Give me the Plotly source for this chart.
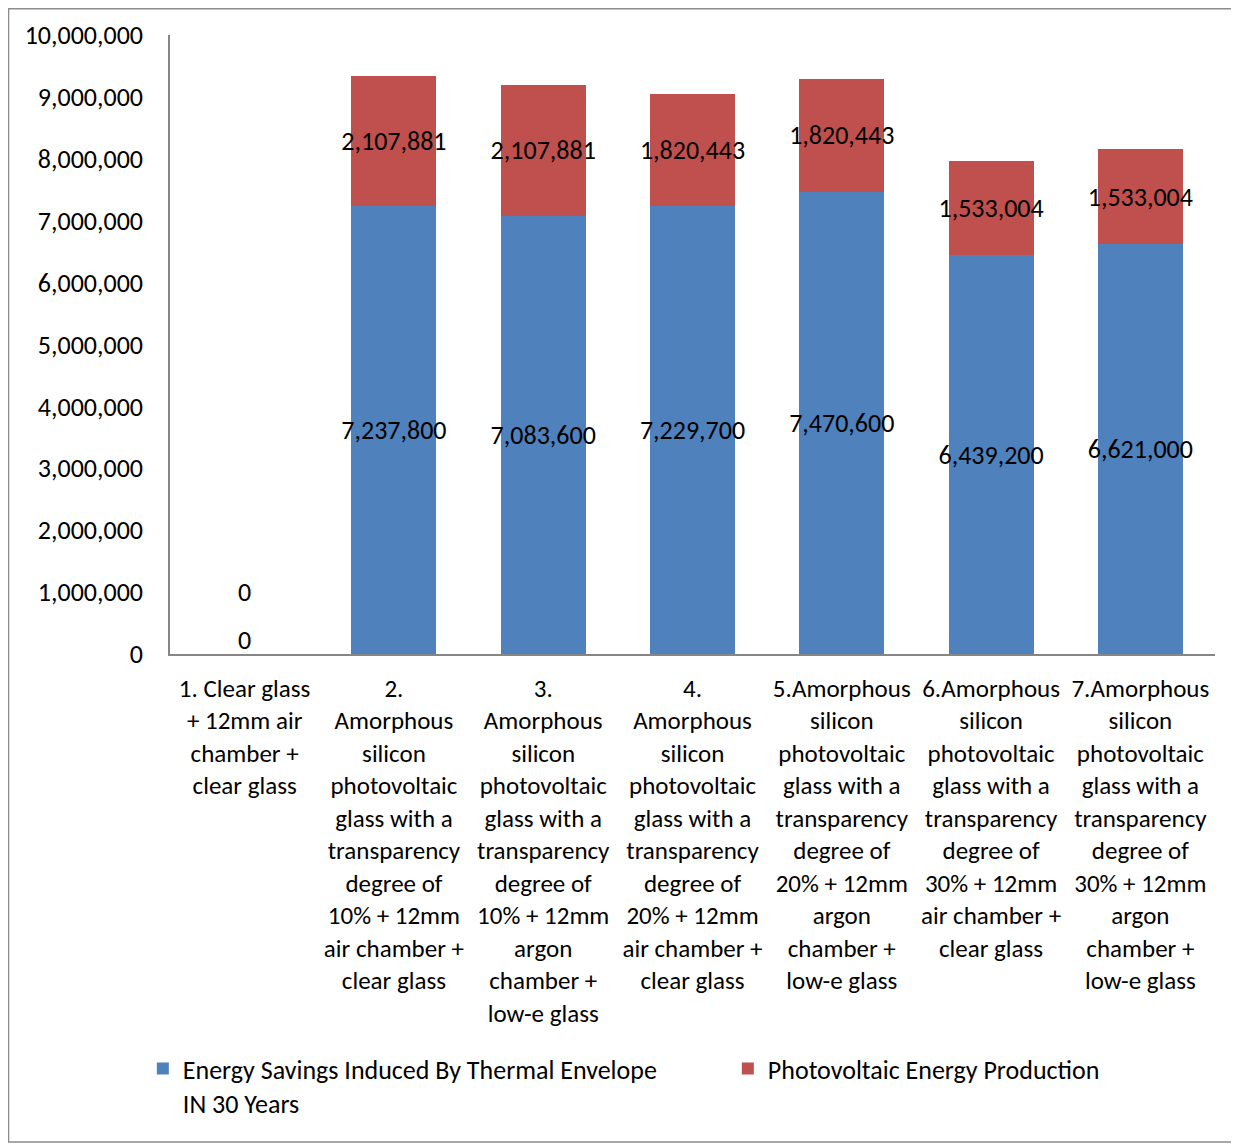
import plotly.graph_objects as go

categories = [
    "1. Clear glass<br>+ 12mm air<br>chamber +<br>clear glass",
    "2.<br>Amorphous<br>silicon<br>photovoltaic<br>glass with a<br>transparency<br>degree of<br>10% + 12mm<br>air chamber +<br>clear glass",
    "3.<br>Amorphous<br>silicon<br>photovoltaic<br>glass with a<br>transparency<br>degree of<br>10% + 12mm<br>argon<br>chamber +<br>low-e glass",
    "4.<br>Amorphous<br>silicon<br>photovoltaic<br>glass with a<br>transparency<br>degree of<br>20% + 12mm<br>air chamber +<br>clear glass",
    "5.Amorphous<br>silicon<br>photovoltaic<br>glass with a<br>transparency<br>degree of<br>20% + 12mm<br>argon<br>chamber +<br>low-e glass",
    "6.Amorphous<br>silicon<br>photovoltaic<br>glass with a<br>transparency<br>degree of<br>30% + 12mm<br>air chamber +<br>clear glass",
    "7.Amorphous<br>silicon<br>photovoltaic<br>glass with a<br>transparency<br>degree of<br>30% + 12mm<br>argon<br>chamber +<br>low-e glass",
]
energy_savings = [0, 7237800, 7083600, 7229700, 7470600, 6439200, 6621000]
pv_production = [0, 2107881, 2107881, 1820443, 1820443, 1533004, 1533004]
series_names = ["Energy Savings Induced By Thermal Envelope<br>IN 30 Years",
                "Photovoltaic Energy Production"]
y_ticks = list(range(0, 10000001, 1000000))

FONT = "Carlito, Calibri, Lato, sans-serif"
BLUE = "#4F81BD"
RED = "#C0504D"
NUM_SIZE = 26
CAT_SIZE = 25

def fmt(v):
    return f"{v:,}" if v else ""

fig = go.Figure()
fig.add_trace(go.Bar(
    x=categories, y=energy_savings, name=series_names[0],
    marker=dict(color=BLUE, line=dict(width=0)),
    text=[fmt(v) for v in energy_savings], textposition="inside",
    insidetextanchor="middle", textangle=0, constraintext="none",
    textfont=dict(color="black", size=NUM_SIZE, family=FONT),
))
fig.add_trace(go.Bar(
    x=categories, y=pv_production, name=series_names[1],
    marker=dict(color=RED, line=dict(width=0)),
    text=[fmt(v) for v in pv_production], textposition="inside",
    insidetextanchor="middle", textangle=0, constraintext="none",
    textfont=dict(color="black", size=NUM_SIZE, family=FONT),
))

# zero labels for the first (empty) category
fig.add_annotation(x=categories[0], y=0, text=str(energy_savings[0]), showarrow=False,
                   yshift=14, font=dict(size=NUM_SIZE, family=FONT, color="black"))
fig.add_annotation(x=categories[0], y=0, text=str(pv_production[0]), showarrow=False,
                   yshift=62, font=dict(size=NUM_SIZE, family=FONT, color="black"))

# outer chart border
fig.add_shape(type="rect", xref="paper", yref="paper",
              x0=-0.1545, x1=1.0211, y0=-0.7884, y1=1.0424,
              line=dict(color="#8C8C8C", width=1.5), fillcolor="rgba(0,0,0,0)")

fig.update_layout(
    barmode="stack",
    bargap=0.43,
    width=1231, height=1136,
    margin=dict(l=162, r=24, t=27, b=490, autoexpand=False),
    plot_bgcolor="white", paper_bgcolor="white",
    font=dict(family=FONT, size=CAT_SIZE, color="black"),
    showlegend=True,
    legend=dict(orientation="h", x=-0.026, xanchor="left", y=-0.632, yanchor="top",
                font=dict(size=26, family=FONT), entrywidth=540, entrywidthmode="pixels",
                itemwidth=30, traceorder="normal", valign="top",
                bgcolor="rgba(0,0,0,0)"),
    xaxis=dict(showline=True, linecolor="#868686", linewidth=1.5, ticks="",
               tickangle=0, tickfont=dict(size=CAT_SIZE, family=FONT),
               ticklabelstandoff=11),
    yaxis=dict(range=[0, 10000000], tickvals=y_ticks,
               ticktext=[f"{v:,}" for v in y_ticks],
               showline=True, linecolor="#868686", linewidth=1.5, showgrid=False,
               zeroline=False, ticks="", tickfont=dict(size=NUM_SIZE, family=FONT),
               ticklabelstandoff=20),
)

fig.write_html("out.html")
